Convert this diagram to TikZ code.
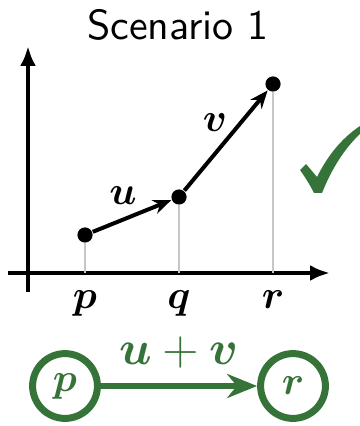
\documentclass[tikz,border=0pt]{standalone}
\usepackage{amsmath,amssymb}
\usepackage{xcolor}
\usepackage{tikz}
\usetikzlibrary{arrows.meta, positioning, calc}
\definecolor{okgreen}{rgb}{0.21,0.45,0.22}

\begin{document}
\begin{tikzpicture}[x=0.25pt, y=-0.25pt,
    datapt/.style={circle, fill=black, inner sep=0pt, minimum size=3.8pt},
    guideline/.style={black!22, line width=0.5pt},
    axisline/.style={line width=1pt, -{Latex[length=5pt,width=4pt]}},
    vec/.style={line width=1pt, -{Stealth[length=4.5pt,width=3.6pt]}},
    statenode/.style={circle, draw=okgreen, line width=1.75pt, minimum size=16.2pt, inner sep=0pt, text=okgreen}]
    \useasboundingbox (0,0) rectangle (360,426);
    % title
    \node (title) at (178,25) {\sffamily\fontsize{10.5}{12}\selectfont Scenario 1};
    % axes
    \draw[axisline] (28,292) -- (28,46);
    \draw[axisline] (8,273) -- (330,273);
    % points and guides
    \node[datapt] (p) at (85,235) {};
    \node[datapt] (q) at (179,197) {};
    \node[datapt] (r) at (273,84) {};
    \coordinate (pb) at (85,273);
    \coordinate (qb) at (179,273);
    \coordinate (rb) at (273,273);
    \draw[guideline] (p) -- (pb);
    \draw[guideline] (q) -- (qb);
    \draw[guideline] (r) -- (rb);
    \draw[vec] (p) -- (q);
    \draw[vec] (q) -- (r);
    \node (lu) at (123,196) {$\boldsymbol{u}$};
    \node (lv) at (215,123) {$\boldsymbol{v}$};
    \node[anchor=base] (lp) at (85,308) {$\boldsymbol{p}$};
    \node[anchor=base] (lq) at (179,308) {$\boldsymbol{q}$};
    \node[anchor=base] (lr) at (273,308) {$\boldsymbol{r}$};
    % check mark
    \fill[okgreen] (300,170) -- (306,164) -- (317,177)
        .. controls (328,155) and (342,138) .. (360,126) -- (360,134)
        .. controls (345,148) and (332,168) .. (322,193) -- (314,193)
        .. controls (310,185) and (305,177) .. cycle;
    % combined step
    \node[statenode] (cp) at (65,386) {$\boldsymbol{p}$};
    \node[statenode] (cr) at (293,386) {$\boldsymbol{r}$};
    \draw[okgreen, line width=1.5pt, -{Stealth[length=7.5pt,width=6pt]}] (cp) -- (cr)
        node[midway, above=0.5pt, text=okgreen] (luv) {\large$\boldsymbol{u}+\boldsymbol{v}$};
\end{tikzpicture}
\end{document}
